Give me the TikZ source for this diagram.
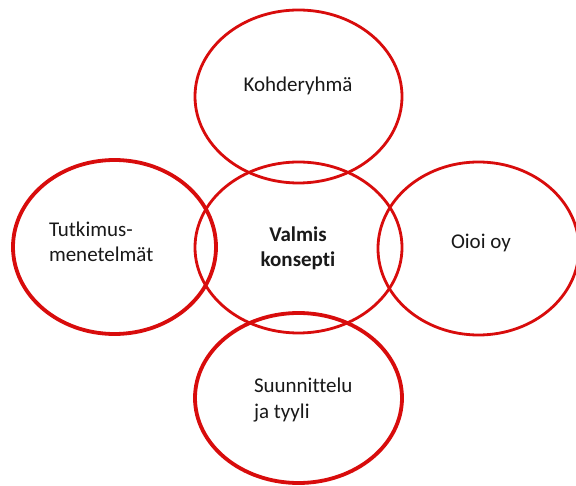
\documentclass[tikz,border=0pt]{standalone}
\usepackage{fontspec}
\setmainfont[Ligatures=NoCommon]{Carlito}
\usetikzlibrary{shapes.geometric}
\definecolor{ringred}{RGB}{216,12,12}
\definecolor{txt}{RGB}{25,25,25}
\tikzset{
  ring/.style={ellipse, draw=ringred, inner sep=0pt, outer sep=0pt},
  thinring/.style={ring, line width=2.8pt},
  thickring/.style={ring, line width=3.8pt},
  label/.style={inner sep=0pt, outer sep=0pt, text=txt, font=\fontsize{21}{25}\selectfont},
}
\begin{document}
\begin{tikzpicture}[x=1pt, y=-1pt]
\useasboundingbox (0,0) rectangle (576,486);
\clip (0,0) rectangle (576,486);
\fill[white] (0,0) rectangle (576,486);
% rings
\node[thinring, minimum width=207pt, minimum height=173pt] (top) at (298.5,96.5) {};
\node[thinring, minimum width=207pt, minimum height=171pt] (mid) at (298.5,247.5) {};
\node[thickring, minimum width=203pt, minimum height=174pt] (left) at (114.5,247) {};
\node[thinring, minimum width=201pt, minimum height=173pt] (right) at (478.5,248.5) {};
\node[thickring, minimum width=207pt, minimum height=170pt] (bottom) at (298.5,398) {};
% texts
\node[label, anchor=base] (ttop) at (298,92) {Kohderyhmä};
\node[label, anchor=base west, align=left] (tleft) at (49,262) {Tutkimus-\\menetelmät};
\node[label, anchor=base, align=center, font=\fontsize{21}{25}\selectfont\bfseries] (tmid) at (298,267) {Valmis\\konsepti};
\node[label, anchor=base west] (tright) at (451,249) {Oioi oy};
\node[label, anchor=base west, align=left] (tbottom) at (254,418) {Suunnittelu\\ja tyyli};
\end{tikzpicture}
\end{document}
